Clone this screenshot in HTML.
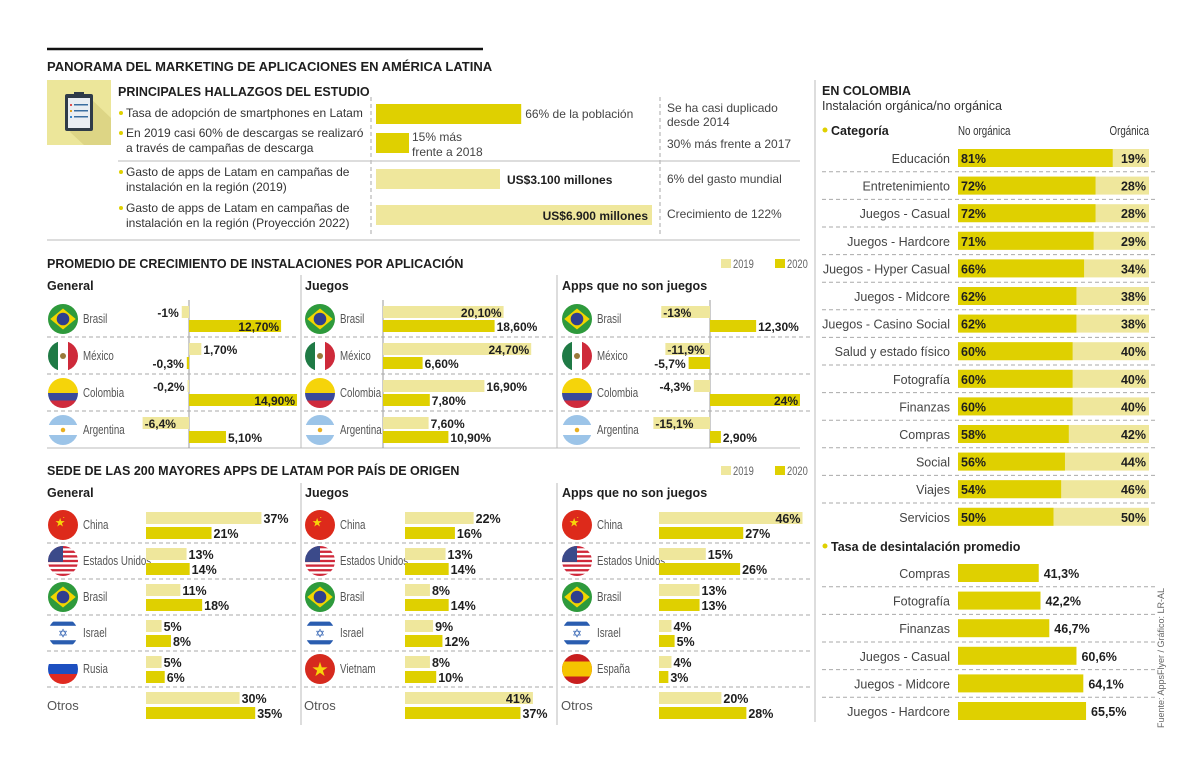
<!DOCTYPE html>
<html><head><meta charset="utf-8">
<style>
html,body{margin:0;padding:0;background:#fff;}
svg{display:block;font-family:"Liberation Sans",sans-serif;}
</style></head>
<body>
<svg id="chart" width="1200" height="772" viewBox="0 0 1200 772" xmlns="http://www.w3.org/2000/svg"></svg>
<script>
// ---------- DATA ----------
const findingLabels=["Tasa de adopción de smartphones en Latam","En 2019 casi 60% de descargas se realizaró","a través de campañas de descarga","Gasto de apps de Latam en campañas de","instalación en la región (2019)","Gasto de apps de Latam en campañas de","instalación en la región (Proyección 2022)"];
const findingPct=[66,15];
const findingSpend=[3100,6900];
const growCountries=["Brasil","México","Colombia","Argentina"];
const growGeneral2019=[-1,1.7,-0.2,-6.4];
const growGeneral2020=[12.7,-0.3,14.9,5.1];
const growGames2019=[20.1,24.7,16.9,7.6];
const growGames2020=[18.6,6.6,7.8,10.9];
const growNon2019=[-13,-11.9,-4.3,-15.1];
const growNon2020=[12.3,-5.7,24,2.9];
const growGeneralLbl2019=["-1%","1,70%","-0,2%","-6,4%"];
const growGeneralLbl2020=["12,70%","-0,3%","14,90%","5,10%"];
const growGamesLbl2019=["20,10%","24,70%","16,90%","7,60%"];
const growGamesLbl2020=["18,60%","6,60%","7,80%","10,90%"];
const growNonLbl2019=["-13%","-11,9%","-4,3%","-15,1%"];
const growNonLbl2020=["12,30%","-5,7%","24%","2,90%"];
const sedeGeneralCountries=["China","Estados Unidos","Brasil","Israel","Rusia","Otros"];
const sedeGeneral2019=[37,13,11,5,5,30];
const sedeGeneral2020=[21,14,18,8,6,35];
const sedeGamesCountries=["China","Estados Unidos","Brasil","Israel","Vietnam","Otros"];
const sedeGames2019=[22,13,8,9,8,41];
const sedeGames2020=[16,14,14,12,10,37];
const sedeNonCountries=["China","Estados Unidos","Brasil","Israel","España","Otros"];
const sedeNon2019=[46,15,13,4,4,20];
const sedeNon2020=[27,26,13,5,3,28];
const colCategories=["Educación","Entretenimiento","Juegos - Casual","Juegos - Hardcore","Juegos - Hyper Casual","Juegos - Midcore","Juegos - Casino Social","Salud y estado físico","Fotografía","Finanzas","Compras","Social","Viajes","Servicios"];
const colNonOrganic=[81,72,72,71,66,62,62,60,60,60,58,56,54,50];
const uninstallCategories=["Compras","Fotografía","Finanzas","Juegos - Casual","Juegos - Midcore","Juegos - Hardcore"];
const uninstallRate=[41.3,42.2,46.7,60.6,64.1,65.5];

// ---------- HELPERS ----------
const NS="http://www.w3.org/2000/svg";
const svg=document.getElementById("chart");
const DARK="#dfd000",LIGHT="#efe79c",TXT="#1e1e1e",GRAY="#555";
function el(tag,attrs,parent){const e=document.createElementNS(NS,tag);for(const k in attrs)e.setAttribute(k,attrs[k]);(parent||svg).appendChild(e);return e;}
function txt(x,y,s,o){o=o||{};const t=el("text",{x:x,y:y,"font-size":o.size||12,fill:o.fill||TXT,"font-weight":o.bold?"bold":"normal","text-anchor":o.anchor||"start"},o.parent);t.textContent=s;return t;}
function txtC(x,y,s,o){o=o||{};const t=txt(0,0,s,o);t.setAttribute("transform","translate("+x+","+y+") scale(0.78,1)");return t;}
function fmt(v){return (Math.round(v*10)/10).toString().replace(".",",");}
let clipN=0;

function flag(name,cx,cy,r){
  const g=el("g",{});
  
  
  const id="c"+(clipN++);
  const cp=el("clipPath",{id:id},g);el("circle",{cx:cx,cy:cy,r:r},cp);
  const f=el("g",{"clip-path":"url(#"+id+")"},g);
  const x0=cx-r,y0=cy-r,d=2*r;
  const R=(x,y,w,h,c)=>el("rect",{x:x,y:y,width:w,height:h,fill:c},f);
  if(name==="Brasil"){R(x0,y0,d,d,"#2e9a3c");el("polygon",{points:`${cx-r*0.85},${cy} ${cx},${cy-r*0.7} ${cx+r*0.85},${cy} ${cx},${cy+r*0.7}`,fill:"#f2d500"},f);el("circle",{cx:cx,cy:cy,r:r*0.42,fill:"#2f3f8f"},f);}
  else if(name==="México"){R(x0,y0,d/3,d,"#1f7a45");R(x0+d/3,y0,d/3,d,"#fff");R(x0+2*d/3,y0,d/3,d,"#ce2a3a");el("circle",{cx:cx,cy:cy,r:r*0.2,fill:"#9a7a3a"},f);}
  else if(name==="Colombia"){R(x0,y0,d,d/2,"#f5d40a");R(x0,cy,d,d/4,"#3a4a9a");R(x0,cy+d/4,d,d/4,"#cf2a3c");}
  else if(name==="Argentina"){R(x0,y0,d,d,"#fff");R(x0,y0,d,d/3,"#9cc4e8");R(x0,y0+2*d/3,d,d/3,"#9cc4e8");el("circle",{cx:cx,cy:cy,r:r*0.15,fill:"#e9b020"},f);}
  else if(name==="China"){R(x0,y0,d,d,"#dd2a1b");txt(cx-r*0.55,cy+r*0.1,"★",{size:r*0.8,fill:"#f7d40a",parent:f});txt(cx-r*0.05,cy-r*0.35,"·",{size:r*0.6,fill:"#f7d40a",parent:f});}
  else if(name==="Estados Unidos"){R(x0,y0,d,d,"#fff");for(let i=0;i<7;i++)R(x0,y0+i*d/6.5,d,d/13,"#d0283a");R(x0,y0,d*0.5,d*0.53,"#3b4a8a");}
  else if(name==="Israel"){R(x0,y0,d,d,"#fff");R(x0,y0+d*0.12,d,d*0.14,"#2a5db0");R(x0,y0+d*0.74,d,d*0.14,"#2a5db0");txt(cx,cy+r*0.3,"✡",{size:r*0.8,fill:"#2a5db0",anchor:"middle",parent:f});}
  else if(name==="Rusia"){R(x0,y0,d,d/3,"#fff");R(x0,y0+d/3,d,d/3,"#1d4fc0");R(x0,y0+2*d/3,d,d/3,"#e02a20");}
  else if(name==="Vietnam"){R(x0,y0,d,d,"#d62a1e");txt(cx,cy+r*0.45,"★",{size:r*1.3,fill:"#f7d40a",anchor:"middle",parent:f});}
  else if(name==="España"){R(x0,y0,d,d,"#c81e1e");R(x0,y0+d/4,d,d/2,"#f5c400");}
  return g;
}
function dashH(x1,x2,y){el("line",{x1:x1,x2:x2,y1:y,y2:y,stroke:"#aaa","stroke-width":1,"stroke-dasharray":"4,3"});}
function line(x1,y1,x2,y2,c,w){el("line",{x1:x1,y1:y1,x2:x2,y2:y2,stroke:c,"stroke-width":w||1});}

// ---------- TITLE ----------
line(47,49,483,49,"#111",2.5);
const t0=txt(47,71,"PANORAMA DEL MARKETING DE APLICACIONES EN AMÉRICA LATINA",{size:13,bold:true});


// ---------- FINDINGS ----------
el("rect",{x:47,y:80,width:64,height:65,fill:"#ece69a"});
el("polygon",{points:"70,132 90,98 111,118 111,145 84,145",fill:"#ddd585"});
el("rect",{x:65,y:94,width:28,height:37,rx:2,fill:"#2f3b48"});
el("rect",{x:68,y:98,width:22,height:30,fill:"#e9eef3"});
el("rect",{x:74,y:92,width:10,height:5,fill:"#2f3b48"});
for(let i=0;i<3;i++){el("rect",{x:70,y:104+i*6,width:2,height:2,fill:["#e05050","#e0a020","#3a8ad0"][i]});el("rect",{x:74,y:104+i*6,width:14,height:1.5,fill:"#3a6ea0"});}
txt(118,96,"PRINCIPALES HALLAZGOS DEL ESTUDIO",{size:12.5,bold:true});
const fl=[[0,117],[1,137],[2,152],[3,176],[4,191],[5,212],[6,227]];
fl.forEach(([i,y])=>{txt(126,y,findingLabels[i],{size:12,fill:"#333"});});
[113,133,172,208].forEach(y=>el("circle",{cx:121,cy:y,r:2,fill:DARK}));
el("line",{x1:371,y1:97,x2:371,y2:235,stroke:"#aaa","stroke-dasharray":"4,3"});
el("line",{x1:660,y1:97,x2:660,y2:235,stroke:"#aaa","stroke-dasharray":"4,3"});
line(118,161,800,161,"#bbb",1);
line(47,240,800,240,"#bbb",1);
const pctX=d=>376+d*2.2;
const fb1=el("rect",{x:376,y:104,width:pctX(findingPct[0])-376,height:20,fill:DARK});

txt(pctX(findingPct[0])+4,118,findingPct[0]+"% de la población",{size:12,fill:"#444"});
const fb2=el("rect",{x:376,y:133,width:pctX(findingPct[1])-376,height:20,fill:DARK});

txt(pctX(findingPct[1])+3,141,findingPct[1]+"% más",{size:12,fill:"#444"});
txt(pctX(findingPct[1])+3,156,"frente a 2018",{size:12,fill:"#444"});
const spX=v=>376+v*0.04;
const fb3=el("rect",{x:376,y:169,width:spX(findingSpend[0])-376,height:20,fill:LIGHT});

txt(spX(findingSpend[0])+7,184,"US$3.100 millones",{size:12,bold:true});
const fb4=el("rect",{x:376,y:205,width:spX(findingSpend[1])-376,height:20,fill:LIGHT});

txt(spX(findingSpend[1])-4,220,"US$6.900 millones",{size:12,bold:true,anchor:"end"});
[["Se ha casi duplicado",112],["desde 2014",126],["30% más frente a 2017",148],["6% del gasto mundial",183],["Crecimiento de 122%",218]].forEach(([s,y])=>txt(667,y,s,{size:12,fill:"#444"}));

// ---------- LEGEND ----------
function legend(y){el("rect",{x:721,y:y-9,width:10,height:9,fill:LIGHT});txtC(733,y,"2019",{size:12,fill:"#666"});el("rect",{x:775,y:y-9,width:10,height:9,fill:DARK});txtC(787,y,"2020",{size:12,fill:"#666"});}

// ---------- GROWTH ----------
txt(47,268,"PROMEDIO DE CRECIMIENTO DE INSTALACIONES POR APLICACIÓN",{size:12.5,bold:true});
legend(268);
line(301,275,301,448,"#bbb");line(557,275,557,448,"#bbb");
line(47,448,800,448,"#bbb");
[["General",47],["Juegos",305],["Apps que no son juegos",562]].forEach(([s,x])=>txt(x,290,s,{size:12.5,bold:true}));
function growthPanel(key,colX,origin,scale,v19,v20,l19,l20){
  const maxAbs=Math.max(...v19.concat(v20).map(Math.abs));
  line(origin,300,origin,448,"#999");
  growCountries.forEach((c,i)=>{
    const top=300+i*37;
    if(i>0)dashH(colX,colX+250,top);
    flag(c,colX+16,top+19,15);
    txtC(colX+36,top+23,c,{size:12.5,fill:GRAY});
    [[v19[i],l19[i],top+6,LIGHT,"2019"],[v20[i],l20[i],top+20,DARK,"2020"]].forEach(([v,l,y,col,yr])=>{
      const x1=origin+Math.min(0,v)*scale,w=Math.abs(v)*scale;
      const b=el("rect",{x:x1,y:y,width:Math.max(w,1),height:12,fill:col});
      
      
      const inside=(Math.abs(v)>=0.8*maxAbs)||(v<0&&w>=40);
      if(v>=0){ if(inside)txt(x1+w-2,y+11,l,{size:12,bold:true,anchor:"end"}); else txt(x1+w+2,y+11,l,{size:12,bold:true}); }
      else { if(inside)txt(x1+2,y+11,l,{size:12,bold:true}); else txt(x1-3,y+11,l,{size:12,bold:true,anchor:"end"}); }
    });
  });
}
growthPanel("general",47,189,7.25,growGeneral2019,growGeneral2020,growGeneralLbl2019,growGeneralLbl2020);
growthPanel("games",304,383,6.0,growGames2019,growGames2020,growGamesLbl2019,growGamesLbl2020);
growthPanel("nongames",561,710,3.75,growNon2019,growNon2020,growNonLbl2019,growNonLbl2020);

// ---------- SEDE ----------
txt(47,475,"SEDE DE LAS 200 MAYORES APPS DE LATAM POR PAÍS DE ORIGEN",{size:12.5,bold:true});
legend(475);
line(301,483,301,725,"#bbb");line(557,483,557,725,"#bbb");
[["General",47],["Juegos",305],["Apps que no son juegos",562]].forEach(([s,x])=>txt(x,497,s,{size:12.5,bold:true}));
function sedePanel(key,colX,colRight,origin,countries,v19,v20){
  const sc=3.12;
  countries.forEach((c,i)=>{
    const top=507+i*36;
    if(i>0)dashH(colX,colX+250,top);
    if(c==="Otros")txt(colX,top+23,c,{size:13,fill:GRAY});
    else{flag(c,colX+16,top+18,15);txtC(colX+36,top+22,c,{size:12.5,fill:GRAY});}
    [[v19[i],top+5,LIGHT,"2019"],[v20[i],top+20,DARK,"2020"]].forEach(([v,y,col,yr])=>{
      const w=v*sc;
      const b=el("rect",{x:origin,y:y,width:w,height:12,fill:col});
      
      
      const end=origin+w;
      if(end+32>colRight)txt(end-2,y+11,v+"%",{size:12.5,bold:true,anchor:"end"});
      else txt(end+2,y+11,v+"%",{size:12.5,bold:true});
    });
  });
}
sedePanel("general",47,301,146,sedeGeneralCountries,sedeGeneral2019,sedeGeneral2020);
sedePanel("games",304,557,405,sedeGamesCountries,sedeGames2019,sedeGames2020);
sedePanel("nongames",561,812,659,sedeNonCountries,sedeNon2019,sedeNon2020);

// ---------- COLOMBIA ----------
line(815,80,815,722,"#bbb");
txt(822,95,"EN COLOMBIA",{size:12.5,bold:true});
txt(822,110,"Instalación orgánica/no orgánica",{size:12.5,fill:"#333"});
el("circle",{cx:825,cy:130,r:2.5,fill:DARK});
txt(831,135,"Categoría",{size:12.5,bold:true});
txtC(958,135,"No orgánica",{size:12.5,fill:"#333"});
txtC(1149,135,"Orgánica",{size:12.5,fill:"#333",anchor:"end"});
const cbX=958,cbW=191,cPitch=27.6;
colCategories.forEach((c,i)=>{
  const cy=158+i*cPitch;
  if(i>0)dashH(822,1155,cy-cPitch/2);
  txt(950,cy+5,c,{size:12.5,fill:"#444",anchor:"end"});
  const w=colNonOrganic[i]*cbW/100;
  el("rect",{x:cbX,y:cy-9,width:cbW,height:18,fill:LIGHT});
  const b=el("rect",{x:cbX,y:cy-9,width:w,height:18,fill:DARK});
  
  
  txt(cbX+3,cy+5,colNonOrganic[i]+"%",{size:12.5,bold:true});
  txt(cbX+cbW-3,cy+5,(100-colNonOrganic[i])+"%",{size:12.5,bold:true,anchor:"end"});
});
el("circle",{cx:825,cy:546,r:2.5,fill:DARK});
txt(831,551,"Tasa de desintalación promedio",{size:12.5,bold:true});
uninstallCategories.forEach((c,i)=>{
  const cy=573+i*cPitch;
  if(i>0)dashH(822,1155,cy-cPitch/2);
  txt(950,cy+5,c,{size:12.5,fill:"#444",anchor:"end"});
  const w=uninstallRate[i]*1.955;
  const b=el("rect",{x:cbX,y:cy-9,width:w,height:18,fill:DARK});
  
  
  txt(cbX+w+5,cy+5,fmt(uninstallRate[i])+"%",{size:12.5,bold:true});
});
const src=txt(0,0,"Fuente: AppsFlyer / Gráfico: LR-AL",{size:9,fill:"#666",anchor:"middle"});
src.setAttribute("transform","translate(1164,658) rotate(-90)");

</script>
</body></html>
